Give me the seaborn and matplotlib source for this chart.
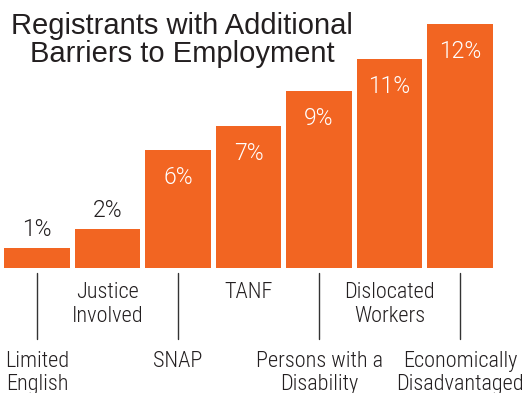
import matplotlib
matplotlib.use("Agg")
import matplotlib.pyplot as plt
import matplotlib.transforms as mtrans
from matplotlib import font_manager as fm
import seaborn as sns

categories = ["Limited\nEnglish", "Justice\nInvolved", "SNAP", "TANF",
              "Persons with a\nDisability", "Dislocated\nWorkers",
              "Economically\nDisadvantaged"]
values = [1.0, 1.9, 5.8, 7.0, 8.7, 10.3, 12.0]
value_labels = ["1%", "2%", "6%", "7%", "9%", "11%", "12%"]
title = "Registrants with Additional\nBarriers to Employment"

W, H = 531, 393
ORANGE = "#F26522"
DARK = "#231F20"

avail = {f.name for f in fm.fontManager.ttflist}
narrow_pref = ["Roboto Condensed", "Archivo Narrow", "PT Sans Narrow",
               "Liberation Sans Narrow", "Sofia Sans Condensed",
               "Cabin Condensed", "Saira SemiCondensed"]
NARROW_NAME = next((n for n in narrow_pref if n in avail), "DejaVu Sans")
NARROW = [NARROW_NAME, "DejaVu Sans"]
PCT_FONT = ["Roboto", "Liberation Sans", "DejaVu Sans"]

sns.set_style("white")
plt.rcParams["font.family"] = ["Liberation Sans", "DejaVu Sans"]

fig = plt.figure(figsize=(W / 100, H / 100), dpi=100)
base_px = 268
ax = fig.add_axes([0, (H - base_px) / H, 1, base_px / H])

sns.barplot(x=list(range(len(values))), y=values, color=ORANGE, saturation=1,
            width=0.935, edgecolor="none", ax=ax)
ax.set_xlim(-0.525, 7.007)
ax.set_ylim(0, base_px / 20.3)
ax.axis("off")

def fy(ypix):
    return 1 - ypix / H

tr = mtrans.blended_transform_factory(ax.transData, fig.transFigure)
lab_kw = dict(family=NARROW, fontstretch="condensed", fontweight=300)
pct_kw = dict(family=PCT_FONT, fontweight=300)

for i, (v, lab) in enumerate(zip(values, value_labels)):
    if v < 3:
        ax.annotate(lab, (i, v), xytext=(0, 7), textcoords="offset pixels",
                    ha="center", va="bottom", fontsize=16.5, color=DARK, **pct_kw)
    else:
        ax.annotate(lab, (i, v), xytext=(0, -16), textcoords="offset pixels",
                    ha="center", va="top", fontsize=16.5, color="white", **pct_kw)

for i, cat in enumerate(categories):
    if i % 2 == 0:
        ax.plot([i, i], [fy(273), fy(339)], transform=tr, color="#333333",
                lw=1.0, clip_on=False)
        ax.text(i, fy(351), cat, transform=tr, ha="center", va="top",
                fontsize=16, color=DARK, linespacing=1.15, **lab_kw)
    else:
        ax.text(i, fy(282.5), cat, transform=tr, ha="center", va="top",
                fontsize=16, color=DARK, linespacing=1.15, **lab_kw)

fig.text(182 / W, fy(12), title, ha="center", va="top", fontsize=21,
         color=DARK, linespacing=1.0, multialignment="center")

fig.savefig("out.png", dpi=100)
